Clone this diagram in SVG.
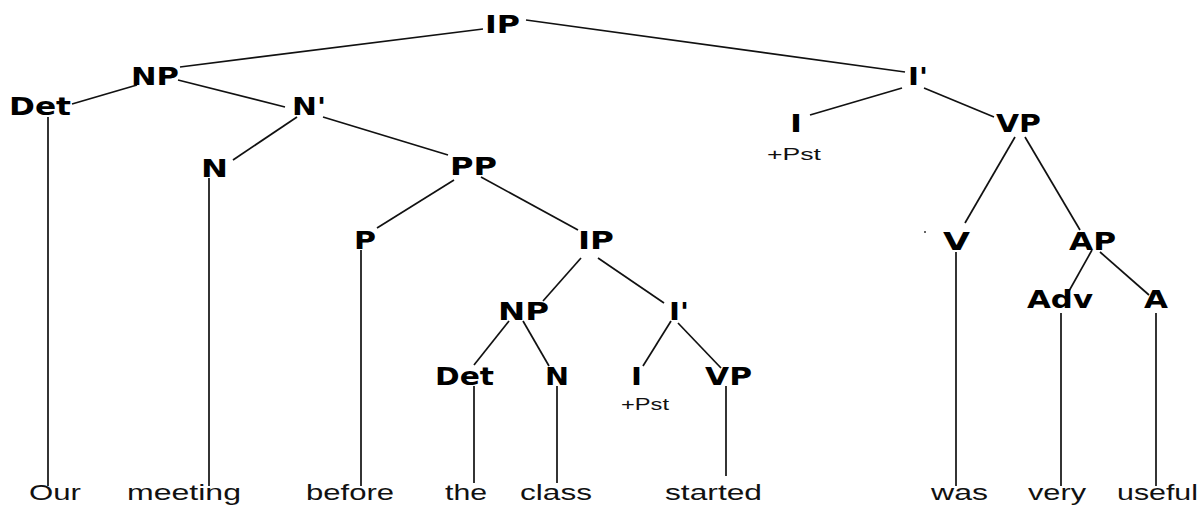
<svg xmlns="http://www.w3.org/2000/svg" width="1203" height="506" viewBox="0 0 1203 506">
<style>
.lb{font-family:"DejaVu Sans","Liberation Sans",sans-serif;font-weight:bold;font-size:24px;fill:#000}
.wd{font-family:"Liberation Sans",Arial,sans-serif;font-size:22px;fill:#111}
.ft{font-family:"Liberation Sans",Arial,sans-serif;font-size:17px;fill:#111}
.ln line{stroke:#111;stroke-width:1.7;stroke-linecap:butt}
</style>
<rect width="1203" height="506" fill="#fff"/>
<g id="connectors" class="ln">
<line x1="483" y1="29" x2="180" y2="67"/>
<line x1="526" y1="20" x2="905" y2="72"/>
<line x1="137" y1="85" x2="72" y2="104"/>
<line x1="178" y1="80" x2="285" y2="107"/>
<line x1="297" y1="117" x2="233" y2="160"/>
<line x1="323" y1="117" x2="448" y2="155"/>
<line x1="454" y1="180" x2="377" y2="228"/>
<line x1="481" y1="177" x2="578" y2="230"/>
<line x1="581" y1="258" x2="543" y2="301"/>
<line x1="598" y1="258" x2="664" y2="303"/>
<line x1="509" y1="321" x2="474" y2="365"/>
<line x1="523" y1="321" x2="549" y2="366"/>
<line x1="671" y1="321" x2="643" y2="366"/>
<line x1="678" y1="323" x2="721" y2="368"/>
<line x1="902" y1="88" x2="810" y2="115"/>
<line x1="924" y1="88" x2="994" y2="117"/>
<line x1="1015" y1="137" x2="965" y2="223"/>
<line x1="1025" y1="137" x2="1080" y2="230"/>
<line x1="1092" y1="250" x2="1069" y2="291"/>
<line x1="1100" y1="252" x2="1149" y2="295"/>
<line x1="48" y1="117" x2="48" y2="486"/>
<line x1="209" y1="178" x2="209" y2="486"/>
<line x1="361" y1="250" x2="361" y2="486"/>
<line x1="474" y1="386" x2="474" y2="483"/>
<line x1="557" y1="386" x2="557" y2="483"/>
<line x1="726" y1="386" x2="726" y2="476"/>
<line x1="956" y1="252" x2="956" y2="486"/>
<line x1="1061" y1="313" x2="1061" y2="486"/>
<line x1="1156" y1="313" x2="1156" y2="486"/>
</g>
<circle cx="925" cy="232" r="1" fill="#333"/>
<g id="n-ip"><text class="lb" x="485" y="33" textLength="35" lengthAdjust="spacingAndGlyphs">IP</text></g>
<g id="n-np"><text class="lb" x="131" y="85" textLength="48" lengthAdjust="spacingAndGlyphs">NP</text></g>
<g id="n-det"><text class="lb" x="9" y="115" textLength="62" lengthAdjust="spacingAndGlyphs">Det</text></g>
<g id="n-nbar"><text class="lb" x="292" y="115" textLength="34" lengthAdjust="spacingAndGlyphs">N'</text></g>
<g id="n-n"><text class="lb" x="201" y="177" textLength="27" lengthAdjust="spacingAndGlyphs">N</text></g>
<g id="n-pp"><text class="lb" x="450" y="175" textLength="47" lengthAdjust="spacingAndGlyphs">PP</text></g>
<g id="n-p"><text class="lb" x="354" y="249" textLength="22" lengthAdjust="spacingAndGlyphs">P</text></g>
<g id="n-ip2"><text class="lb" x="578" y="249" textLength="36" lengthAdjust="spacingAndGlyphs">IP</text></g>
<g id="n-np2"><text class="lb" x="498" y="320" textLength="51" lengthAdjust="spacingAndGlyphs">NP</text></g>
<g id="n-ibar2"><text class="lb" x="669" y="320" textLength="20" lengthAdjust="spacingAndGlyphs">I'</text></g>
<g id="n-det2"><text class="lb" x="435" y="385" textLength="59" lengthAdjust="spacingAndGlyphs">Det</text></g>
<g id="n-n2"><text class="lb" x="545" y="385" textLength="24" lengthAdjust="spacingAndGlyphs">N</text></g>
<g id="n-i2"><text class="lb" x="631" y="385" textLength="11" lengthAdjust="spacingAndGlyphs">I</text><text class="ft" x="621" y="410" textLength="48" lengthAdjust="spacingAndGlyphs">+Pst</text></g>
<g id="n-vp2"><text class="lb" x="705" y="385" textLength="47" lengthAdjust="spacingAndGlyphs">VP</text></g>
<g id="n-ibar"><text class="lb" x="908" y="85" textLength="20" lengthAdjust="spacingAndGlyphs">I'</text></g>
<g id="n-i"><text class="lb" x="790" y="132" textLength="12" lengthAdjust="spacingAndGlyphs">I</text><text class="ft" x="767" y="160" textLength="54" lengthAdjust="spacingAndGlyphs">+Pst</text></g>
<g id="n-vp"><text class="lb" x="996" y="132" textLength="45" lengthAdjust="spacingAndGlyphs">VP</text></g>
<g id="n-v"><text class="lb" x="943" y="250" textLength="27" lengthAdjust="spacingAndGlyphs">V</text></g>
<g id="n-ap"><text class="lb" x="1069" y="250" textLength="47" lengthAdjust="spacingAndGlyphs">AP</text></g>
<g id="n-adv"><text class="lb" x="1027" y="308" textLength="66" lengthAdjust="spacingAndGlyphs">Adv</text></g>
<g id="n-a"><text class="lb" x="1144" y="308" textLength="24" lengthAdjust="spacingAndGlyphs">A</text></g>
<g id="words">
<text class="wd" x="29" y="500" textLength="52" lengthAdjust="spacingAndGlyphs">Our</text>
<text class="wd" x="127" y="500" textLength="114" lengthAdjust="spacingAndGlyphs">meeting</text>
<text class="wd" x="306" y="500" textLength="88" lengthAdjust="spacingAndGlyphs">before</text>
<text class="wd" x="445" y="500" textLength="42" lengthAdjust="spacingAndGlyphs">the</text>
<text class="wd" x="520" y="500" textLength="72" lengthAdjust="spacingAndGlyphs">class</text>
<text class="wd" x="665" y="500" textLength="97" lengthAdjust="spacingAndGlyphs">started</text>
<text class="wd" x="931" y="500" textLength="57" lengthAdjust="spacingAndGlyphs">was</text>
<text class="wd" x="1028" y="500" textLength="58" lengthAdjust="spacingAndGlyphs">very</text>
<text class="wd" x="1117" y="500" textLength="81" lengthAdjust="spacingAndGlyphs">useful</text>
</g>
</svg>
